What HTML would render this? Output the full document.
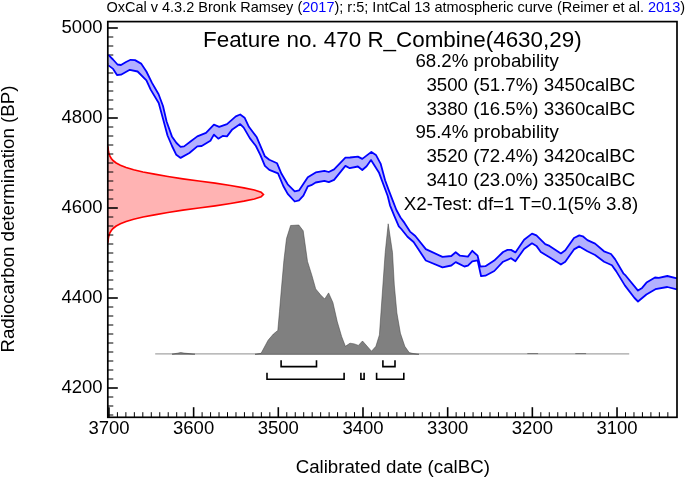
<!DOCTYPE html><html><head><meta charset="utf-8"><title>OxCal plot</title><style>html,body{margin:0;padding:0;background:#fff}svg{display:block}text{font-family:"Liberation Sans",sans-serif;fill:#000}</style></head><body>
<svg width="685" height="477" viewBox="0 0 685 477">
<rect width="685" height="477" fill="#fff"/>
<defs><clipPath id="c"><rect x="107.8" y="21.6" width="569.2" height="395.7"/></clipPath></defs>
<g clip-path="url(#c)">
<polygon points="105.8,147.2 108.0,147.2 108.2,149.5 108.5,151.8 109.1,154.0 109.9,156.2 111.3,158.5 113.3,160.8 116.2,163.0 120.4,165.2 126.1,167.5 133.6,169.8 143.0,172.0 154.5,174.2 167.9,176.5 182.9,178.8 198.9,181.0 215.1,183.2 230.5,185.5 243.9,187.8 254.4,190.0 261.1,192.2 263.4,194.5 261.1,196.8 254.4,199.0 243.9,201.2 230.5,203.5 215.1,205.8 198.9,208.0 182.9,210.2 167.9,212.5 154.5,214.8 143.0,217.0 133.6,219.2 126.1,221.5 120.4,223.8 116.2,226.0 113.3,228.2 111.3,230.5 109.9,232.8 109.1,235.0 108.5,237.2 108.2,239.5 108.0,241.8 105.8,241.8" fill="#ffb3b3" stroke="#ff0000" stroke-width="1.7" stroke-linejoin="miter"/>
</g>
<line x1="108.95" y1="417.2" x2="108.95" y2="407.2" stroke="#000" stroke-width="1.6"/><line x1="117.42" y1="417.2" x2="117.42" y2="412.2" stroke="#000" stroke-width="1"/><line x1="125.89" y1="417.2" x2="125.89" y2="412.2" stroke="#000" stroke-width="1"/><line x1="134.35" y1="417.2" x2="134.35" y2="412.2" stroke="#000" stroke-width="1"/><line x1="142.82" y1="417.2" x2="142.82" y2="412.2" stroke="#000" stroke-width="1"/><line x1="151.29" y1="417.2" x2="151.29" y2="412.2" stroke="#000" stroke-width="1"/><line x1="159.76" y1="417.2" x2="159.76" y2="412.2" stroke="#000" stroke-width="1"/><line x1="168.23" y1="417.2" x2="168.23" y2="412.2" stroke="#000" stroke-width="1"/><line x1="176.69" y1="417.2" x2="176.69" y2="412.2" stroke="#000" stroke-width="1"/><line x1="185.16" y1="417.2" x2="185.16" y2="412.2" stroke="#000" stroke-width="1"/><line x1="193.63" y1="417.2" x2="193.63" y2="407.2" stroke="#000" stroke-width="1.6"/><line x1="202.10" y1="417.2" x2="202.10" y2="412.2" stroke="#000" stroke-width="1"/><line x1="210.57" y1="417.2" x2="210.57" y2="412.2" stroke="#000" stroke-width="1"/><line x1="219.03" y1="417.2" x2="219.03" y2="412.2" stroke="#000" stroke-width="1"/><line x1="227.50" y1="417.2" x2="227.50" y2="412.2" stroke="#000" stroke-width="1"/><line x1="235.97" y1="417.2" x2="235.97" y2="412.2" stroke="#000" stroke-width="1"/><line x1="244.44" y1="417.2" x2="244.44" y2="412.2" stroke="#000" stroke-width="1"/><line x1="252.91" y1="417.2" x2="252.91" y2="412.2" stroke="#000" stroke-width="1"/><line x1="261.37" y1="417.2" x2="261.37" y2="412.2" stroke="#000" stroke-width="1"/><line x1="269.84" y1="417.2" x2="269.84" y2="412.2" stroke="#000" stroke-width="1"/><line x1="278.31" y1="417.2" x2="278.31" y2="407.2" stroke="#000" stroke-width="1.6"/><line x1="286.78" y1="417.2" x2="286.78" y2="412.2" stroke="#000" stroke-width="1"/><line x1="295.25" y1="417.2" x2="295.25" y2="412.2" stroke="#000" stroke-width="1"/><line x1="303.71" y1="417.2" x2="303.71" y2="412.2" stroke="#000" stroke-width="1"/><line x1="312.18" y1="417.2" x2="312.18" y2="412.2" stroke="#000" stroke-width="1"/><line x1="320.65" y1="417.2" x2="320.65" y2="412.2" stroke="#000" stroke-width="1"/><line x1="329.12" y1="417.2" x2="329.12" y2="412.2" stroke="#000" stroke-width="1"/><line x1="337.59" y1="417.2" x2="337.59" y2="412.2" stroke="#000" stroke-width="1"/><line x1="346.05" y1="417.2" x2="346.05" y2="412.2" stroke="#000" stroke-width="1"/><line x1="354.52" y1="417.2" x2="354.52" y2="412.2" stroke="#000" stroke-width="1"/><line x1="362.99" y1="417.2" x2="362.99" y2="407.2" stroke="#000" stroke-width="1.6"/><line x1="371.46" y1="417.2" x2="371.46" y2="412.2" stroke="#000" stroke-width="1"/><line x1="379.93" y1="417.2" x2="379.93" y2="412.2" stroke="#000" stroke-width="1"/><line x1="388.39" y1="417.2" x2="388.39" y2="412.2" stroke="#000" stroke-width="1"/><line x1="396.86" y1="417.2" x2="396.86" y2="412.2" stroke="#000" stroke-width="1"/><line x1="405.33" y1="417.2" x2="405.33" y2="412.2" stroke="#000" stroke-width="1"/><line x1="413.80" y1="417.2" x2="413.80" y2="412.2" stroke="#000" stroke-width="1"/><line x1="422.27" y1="417.2" x2="422.27" y2="412.2" stroke="#000" stroke-width="1"/><line x1="430.73" y1="417.2" x2="430.73" y2="412.2" stroke="#000" stroke-width="1"/><line x1="439.20" y1="417.2" x2="439.20" y2="412.2" stroke="#000" stroke-width="1"/><line x1="447.67" y1="417.2" x2="447.67" y2="407.2" stroke="#000" stroke-width="1.6"/><line x1="456.14" y1="417.2" x2="456.14" y2="412.2" stroke="#000" stroke-width="1"/><line x1="464.61" y1="417.2" x2="464.61" y2="412.2" stroke="#000" stroke-width="1"/><line x1="473.07" y1="417.2" x2="473.07" y2="412.2" stroke="#000" stroke-width="1"/><line x1="481.54" y1="417.2" x2="481.54" y2="412.2" stroke="#000" stroke-width="1"/><line x1="490.01" y1="417.2" x2="490.01" y2="412.2" stroke="#000" stroke-width="1"/><line x1="498.48" y1="417.2" x2="498.48" y2="412.2" stroke="#000" stroke-width="1"/><line x1="506.95" y1="417.2" x2="506.95" y2="412.2" stroke="#000" stroke-width="1"/><line x1="515.41" y1="417.2" x2="515.41" y2="412.2" stroke="#000" stroke-width="1"/><line x1="523.88" y1="417.2" x2="523.88" y2="412.2" stroke="#000" stroke-width="1"/><line x1="532.35" y1="417.2" x2="532.35" y2="407.2" stroke="#000" stroke-width="1.6"/><line x1="540.82" y1="417.2" x2="540.82" y2="412.2" stroke="#000" stroke-width="1"/><line x1="549.29" y1="417.2" x2="549.29" y2="412.2" stroke="#000" stroke-width="1"/><line x1="557.75" y1="417.2" x2="557.75" y2="412.2" stroke="#000" stroke-width="1"/><line x1="566.22" y1="417.2" x2="566.22" y2="412.2" stroke="#000" stroke-width="1"/><line x1="574.69" y1="417.2" x2="574.69" y2="412.2" stroke="#000" stroke-width="1"/><line x1="583.16" y1="417.2" x2="583.16" y2="412.2" stroke="#000" stroke-width="1"/><line x1="591.63" y1="417.2" x2="591.63" y2="412.2" stroke="#000" stroke-width="1"/><line x1="600.09" y1="417.2" x2="600.09" y2="412.2" stroke="#000" stroke-width="1"/><line x1="608.56" y1="417.2" x2="608.56" y2="412.2" stroke="#000" stroke-width="1"/><line x1="617.03" y1="417.2" x2="617.03" y2="407.2" stroke="#000" stroke-width="1.6"/><line x1="625.50" y1="417.2" x2="625.50" y2="412.2" stroke="#000" stroke-width="1"/><line x1="633.97" y1="417.2" x2="633.97" y2="412.2" stroke="#000" stroke-width="1"/><line x1="642.43" y1="417.2" x2="642.43" y2="412.2" stroke="#000" stroke-width="1"/><line x1="650.90" y1="417.2" x2="650.90" y2="412.2" stroke="#000" stroke-width="1"/><line x1="659.37" y1="417.2" x2="659.37" y2="412.2" stroke="#000" stroke-width="1"/><line x1="667.84" y1="417.2" x2="667.84" y2="412.2" stroke="#000" stroke-width="1"/><line x1="107.8" y1="28.00" x2="117.8" y2="28.00" stroke="#000" stroke-width="1.6"/><line x1="107.8" y1="37.00" x2="113.3" y2="37.00" stroke="#000" stroke-width="1"/><line x1="107.8" y1="46.00" x2="113.3" y2="46.00" stroke="#000" stroke-width="1"/><line x1="107.8" y1="55.00" x2="113.3" y2="55.00" stroke="#000" stroke-width="1"/><line x1="107.8" y1="64.00" x2="113.3" y2="64.00" stroke="#000" stroke-width="1"/><line x1="107.8" y1="73.00" x2="113.3" y2="73.00" stroke="#000" stroke-width="1"/><line x1="107.8" y1="82.00" x2="113.3" y2="82.00" stroke="#000" stroke-width="1"/><line x1="107.8" y1="91.00" x2="113.3" y2="91.00" stroke="#000" stroke-width="1"/><line x1="107.8" y1="100.00" x2="113.3" y2="100.00" stroke="#000" stroke-width="1"/><line x1="107.8" y1="109.00" x2="113.3" y2="109.00" stroke="#000" stroke-width="1"/><line x1="107.8" y1="118.00" x2="117.8" y2="118.00" stroke="#000" stroke-width="1.6"/><line x1="107.8" y1="127.00" x2="113.3" y2="127.00" stroke="#000" stroke-width="1"/><line x1="107.8" y1="136.00" x2="113.3" y2="136.00" stroke="#000" stroke-width="1"/><line x1="107.8" y1="145.00" x2="113.3" y2="145.00" stroke="#000" stroke-width="1"/><line x1="107.8" y1="154.00" x2="113.3" y2="154.00" stroke="#000" stroke-width="1"/><line x1="107.8" y1="163.00" x2="113.3" y2="163.00" stroke="#000" stroke-width="1"/><line x1="107.8" y1="172.00" x2="113.3" y2="172.00" stroke="#000" stroke-width="1"/><line x1="107.8" y1="181.00" x2="113.3" y2="181.00" stroke="#000" stroke-width="1"/><line x1="107.8" y1="190.00" x2="113.3" y2="190.00" stroke="#000" stroke-width="1"/><line x1="107.8" y1="199.00" x2="113.3" y2="199.00" stroke="#000" stroke-width="1"/><line x1="107.8" y1="208.00" x2="117.8" y2="208.00" stroke="#000" stroke-width="1.6"/><line x1="107.8" y1="217.00" x2="113.3" y2="217.00" stroke="#000" stroke-width="1"/><line x1="107.8" y1="226.00" x2="113.3" y2="226.00" stroke="#000" stroke-width="1"/><line x1="107.8" y1="235.00" x2="113.3" y2="235.00" stroke="#000" stroke-width="1"/><line x1="107.8" y1="244.00" x2="113.3" y2="244.00" stroke="#000" stroke-width="1"/><line x1="107.8" y1="253.00" x2="113.3" y2="253.00" stroke="#000" stroke-width="1"/><line x1="107.8" y1="262.00" x2="113.3" y2="262.00" stroke="#000" stroke-width="1"/><line x1="107.8" y1="271.00" x2="113.3" y2="271.00" stroke="#000" stroke-width="1"/><line x1="107.8" y1="280.00" x2="113.3" y2="280.00" stroke="#000" stroke-width="1"/><line x1="107.8" y1="289.00" x2="113.3" y2="289.00" stroke="#000" stroke-width="1"/><line x1="107.8" y1="298.00" x2="117.8" y2="298.00" stroke="#000" stroke-width="1.6"/><line x1="107.8" y1="307.00" x2="113.3" y2="307.00" stroke="#000" stroke-width="1"/><line x1="107.8" y1="316.00" x2="113.3" y2="316.00" stroke="#000" stroke-width="1"/><line x1="107.8" y1="325.00" x2="113.3" y2="325.00" stroke="#000" stroke-width="1"/><line x1="107.8" y1="334.00" x2="113.3" y2="334.00" stroke="#000" stroke-width="1"/><line x1="107.8" y1="343.00" x2="113.3" y2="343.00" stroke="#000" stroke-width="1"/><line x1="107.8" y1="352.00" x2="113.3" y2="352.00" stroke="#000" stroke-width="1"/><line x1="107.8" y1="361.00" x2="113.3" y2="361.00" stroke="#000" stroke-width="1"/><line x1="107.8" y1="370.00" x2="113.3" y2="370.00" stroke="#000" stroke-width="1"/><line x1="107.8" y1="379.00" x2="113.3" y2="379.00" stroke="#000" stroke-width="1"/><line x1="107.8" y1="388.00" x2="117.8" y2="388.00" stroke="#000" stroke-width="1.6"/><line x1="107.8" y1="397.00" x2="113.3" y2="397.00" stroke="#000" stroke-width="1"/><line x1="107.8" y1="406.00" x2="113.3" y2="406.00" stroke="#000" stroke-width="1"/><line x1="107.8" y1="415.00" x2="113.3" y2="415.00" stroke="#000" stroke-width="1"/>
<g clip-path="url(#c)">
<polygon points="108.4,54.9 113.0,59.5 117.5,64.5 121.0,65.0 126.0,62.0 130.6,59.8 135.0,60.1 141.1,63.6 146.4,71.5 152.0,82.9 158.6,94.3 163.0,106.0 166.6,121.5 171.9,136.4 176.5,143.0 180.6,146.9 184.1,146.4 190.5,141.5 197.3,136.4 206.0,132.9 213.9,124.7 219.2,126.8 227.0,124.1 235.8,116.3 240.2,114.5 244.6,117.7 248.9,126.8 256.8,137.3 264.9,156.3 269.3,159.8 277.1,163.3 281.5,173.8 287.7,184.3 294.7,191.3 299.0,190.4 307.8,177.3 315.7,172.4 324.4,170.8 328.8,172.0 334.1,169.4 345.4,157.7 350.0,157.5 357.9,156.6 362.3,158.9 371.4,151.9 375.9,154.9 380.6,163.6 385.1,180.2 388.9,190.6 396.4,210.0 400.5,217.5 404.5,222.9 410.0,231.6 415.3,236.0 425.8,249.1 442.5,256.9 451.3,256.0 455.7,252.2 460.0,255.7 467.9,256.6 472.3,250.8 477.6,255.7 480.2,266.5 485.4,266.2 494.2,260.6 503.1,252.0 507.5,249.9 511.0,249.9 515.4,252.4 524.1,239.8 532.0,233.6 536.4,235.4 545.2,244.1 549.5,245.9 560.9,253.4 565.3,250.3 574.0,238.0 579.3,235.4 582.8,236.3 587.4,240.1 595.1,243.6 604.0,251.3 611.0,254.0 615.2,259.4 623.6,273.7 625.8,275.7 638.0,290.6 642.1,287.9 646.5,282.6 655.0,277.5 658.8,277.8 667.3,276.0 677.0,278.3 677.0,289.4 667.3,287.0 655.4,289.2 646.4,294.5 638.0,301.5 634.5,298.0 625.0,285.6 616.1,271.1 611.9,265.3 604.1,261.8 595.1,255.0 587.4,251.2 579.3,246.4 574.0,249.4 565.3,261.7 560.9,264.6 549.5,257.3 540.8,252.0 536.4,245.9 532.0,243.3 524.1,248.9 515.4,261.3 511.0,258.2 503.1,261.7 494.3,271.0 485.4,275.7 481.1,276.2 477.6,260.4 472.3,261.3 467.9,265.7 464.4,266.5 455.7,262.1 451.3,265.5 442.5,267.3 425.8,260.5 413.6,242.0 407.5,236.8 401.3,229.0 398.8,226.3 394.3,215.9 390.0,205.3 387.7,196.0 378.9,172.4 371.0,160.1 366.6,166.3 362.3,170.0 357.9,166.5 349.8,168.2 345.4,165.9 334.1,179.9 328.8,182.2 324.4,180.8 315.7,182.5 311.3,185.2 307.8,186.4 303.4,195.7 299.0,200.4 294.7,201.5 287.7,193.9 283.3,186.0 278.0,173.4 269.3,169.9 264.9,165.9 260.3,154.8 255.9,146.0 249.8,138.1 243.7,127.6 240.2,124.1 232.3,129.4 227.0,136.4 222.7,135.9 218.3,138.7 213.9,134.6 210.4,140.8 201.7,146.0 197.3,146.4 189.4,153.0 180.6,157.9 176.3,154.8 172.0,146.0 167.5,135.5 163.0,118.8 158.7,103.0 150.8,89.9 146.4,80.3 137.6,71.5 129.8,69.8 121.0,74.7 117.0,75.0 113.1,68.9 108.4,65.4" fill="#b3b0fe" stroke="none"/>
<polyline points="108.4,54.9 113.0,59.5 117.5,64.5 121.0,65.0 126.0,62.0 130.6,59.8 135.0,60.1 141.1,63.6 146.4,71.5 152.0,82.9 158.6,94.3 163.0,106.0 166.6,121.5 171.9,136.4 176.5,143.0 180.6,146.9 184.1,146.4 190.5,141.5 197.3,136.4 206.0,132.9 213.9,124.7 219.2,126.8 227.0,124.1 235.8,116.3 240.2,114.5 244.6,117.7 248.9,126.8 256.8,137.3 264.9,156.3 269.3,159.8 277.1,163.3 281.5,173.8 287.7,184.3 294.7,191.3 299.0,190.4 307.8,177.3 315.7,172.4 324.4,170.8 328.8,172.0 334.1,169.4 345.4,157.7 350.0,157.5 357.9,156.6 362.3,158.9 371.4,151.9 375.9,154.9 380.6,163.6 385.1,180.2 388.9,190.6 396.4,210.0 400.5,217.5 404.5,222.9 410.0,231.6 415.3,236.0 425.8,249.1 442.5,256.9 451.3,256.0 455.7,252.2 460.0,255.7 467.9,256.6 472.3,250.8 477.6,255.7 480.2,266.5 485.4,266.2 494.2,260.6 503.1,252.0 507.5,249.9 511.0,249.9 515.4,252.4 524.1,239.8 532.0,233.6 536.4,235.4 545.2,244.1 549.5,245.9 560.9,253.4 565.3,250.3 574.0,238.0 579.3,235.4 582.8,236.3 587.4,240.1 595.1,243.6 604.0,251.3 611.0,254.0 615.2,259.4 623.6,273.7 625.8,275.7 638.0,290.6 642.1,287.9 646.5,282.6 655.0,277.5 658.8,277.8 667.3,276.0 677.0,278.3" fill="none" stroke="#0000ff" stroke-width="1.8" stroke-linejoin="round"/>
<polyline points="108.4,65.4 113.1,68.9 117.0,75.0 121.0,74.7 129.8,69.8 137.6,71.5 146.4,80.3 150.8,89.9 158.7,103.0 163.0,118.8 167.5,135.5 172.0,146.0 176.3,154.8 180.6,157.9 189.4,153.0 197.3,146.4 201.7,146.0 210.4,140.8 213.9,134.6 218.3,138.7 222.7,135.9 227.0,136.4 232.3,129.4 240.2,124.1 243.7,127.6 249.8,138.1 255.9,146.0 260.3,154.8 264.9,165.9 269.3,169.9 278.0,173.4 283.3,186.0 287.7,193.9 294.7,201.5 299.0,200.4 303.4,195.7 307.8,186.4 311.3,185.2 315.7,182.5 324.4,180.8 328.8,182.2 334.1,179.9 345.4,165.9 349.8,168.2 357.9,166.5 362.3,170.0 366.6,166.3 371.0,160.1 378.9,172.4 387.7,196.0 390.0,205.3 394.3,215.9 398.8,226.3 401.3,229.0 407.5,236.8 413.6,242.0 425.8,260.5 442.5,267.3 451.3,265.5 455.7,262.1 464.4,266.5 467.9,265.7 472.3,261.3 477.6,260.4 481.1,276.2 485.4,275.7 494.3,271.0 503.1,261.7 511.0,258.2 515.4,261.3 524.1,248.9 532.0,243.3 536.4,245.9 540.8,252.0 549.5,257.3 560.9,264.6 565.3,261.7 574.0,249.4 579.3,246.4 587.4,251.2 595.1,255.0 604.1,261.8 611.9,265.3 616.1,271.1 625.0,285.6 634.5,298.0 638.0,301.5 646.4,294.5 655.4,289.2 667.3,287.0 677.0,289.4" fill="none" stroke="#0000ff" stroke-width="1.8" stroke-linejoin="round"/>
</g>
<line x1="155.2" y1="353.9" x2="629.2" y2="353.9" stroke="#a4a4a4" stroke-width="1.3"/>
<polygon points="255.0,354.3 261.1,353.3 268.1,340.2 273.4,334.0 277.8,330.5 279.5,311.3 281.3,290.0 283.9,260.5 286.5,238.6 290.6,225.5 298.8,225.0 303.2,230.8 307.5,261.4 311.9,275.4 315.7,288.9 320.7,295.0 324.7,299.0 328.6,292.9 332.9,302.5 337.3,321.8 341.7,336.7 345.4,346.3 350.0,343.2 354.4,343.9 358.4,345.4 362.5,341.0 371.5,351.2 375.9,346.3 379.4,334.9 382.9,285.0 385.2,252.6 388.2,223.8 392.5,252.6 394.3,285.0 396.9,313.0 400.4,333.2 404.8,346.3 409.2,352.6 413.0,353.5 419.0,354.3" fill="#808080" stroke="#3a3a3a" stroke-width="0.5" stroke-linejoin="round"/>
<polygon points="172.0,354.2 177.5,353.2 180.6,352.5 184.0,353.1 189.0,353.6 195.0,354.2" fill="#808080" stroke="#3a3a3a" stroke-width="0.5" stroke-linejoin="round"/>
<line x1="527.7" y1="353.6" x2="537.7" y2="353.6" stroke="#555" stroke-width="0.9" stroke-linecap="round" opacity="0.8"/>
<line x1="575.7" y1="353.6" x2="585.7" y2="353.6" stroke="#555" stroke-width="0.9" stroke-linecap="round" opacity="0.8"/>
<polyline points="281.1,360.2 281.1,366.6 316.5,366.6 316.5,360.2" fill="none" stroke="#000" stroke-width="1.6"/>
<polyline points="382.9,360.2 382.9,366.6 395.0,366.6 395.0,360.2" fill="none" stroke="#000" stroke-width="1.6"/>
<polyline points="267.0,372.8 267.0,379.2 344.1,379.2 344.1,372.8" fill="none" stroke="#000" stroke-width="1.6"/>
<polyline points="360.9,372.8 360.9,379.2 364.1,379.2 364.1,372.8" fill="none" stroke="#000" stroke-width="1.6"/>
<polyline points="376.6,372.8 376.6,379.2 403.8,379.2 403.8,372.8" fill="none" stroke="#000" stroke-width="1.6"/>
<rect x="107.8" y="21.6" width="569.2" height="395.7" fill="none" stroke="#000" stroke-width="1.7"/>
<text x="109.0" y="433.6" font-size="18.5" text-anchor="middle">3700</text>
<text x="193.6" y="433.6" font-size="18.5" text-anchor="middle">3600</text>
<text x="278.3" y="433.6" font-size="18.5" text-anchor="middle">3500</text>
<text x="363.0" y="433.6" font-size="18.5" text-anchor="middle">3400</text>
<text x="447.7" y="433.6" font-size="18.5" text-anchor="middle">3300</text>
<text x="532.4" y="433.6" font-size="18.5" text-anchor="middle">3200</text>
<text x="617.0" y="433.6" font-size="18.5" text-anchor="middle">3100</text>
<text x="102.6" y="33.2" font-size="18.5" text-anchor="end">5000</text>
<text x="102.6" y="123.2" font-size="18.5" text-anchor="end">4800</text>
<text x="102.6" y="213.2" font-size="18.5" text-anchor="end">4600</text>
<text x="102.6" y="303.2" font-size="18.5" text-anchor="end">4400</text>
<text x="102.6" y="393.2" font-size="18.5" text-anchor="end">4200</text>
<text x="106.4" y="12" font-size="14.5">OxCal v 4.3.2 Bronk Ramsey (<tspan fill="#0000ff">2017</tspan>); r:5; IntCal 13 atmospheric curve (Reimer et al. <tspan fill="#0000ff">2013</tspan>)</text>
<text x="203" y="46.7" font-size="22.42">Feature no. 470 R_Combine(4630,29)</text>
<text x="415.4" y="67.4" font-size="18.7">68.2% probability</text>
<text x="426.4" y="91.1" font-size="18.7">3500 (51.7%) 3450calBC</text>
<text x="426.4" y="114.8" font-size="18.7">3380 (16.5%) 3360calBC</text>
<text x="415.4" y="138.4" font-size="18.7">95.4% probability</text>
<text x="426.4" y="162.1" font-size="18.7">3520 (72.4%) 3420calBC</text>
<text x="426.4" y="185.8" font-size="18.7">3410 (23.0%) 3350calBC</text>
<text x="403.8" y="209.5" font-size="18.7">X2-Test: df=1 T=0.1(5% 3.8)</text>
<text transform="translate(14.0,219.1) rotate(-90)" font-size="18.7" text-anchor="middle">Radiocarbon determination (BP)</text>
<text x="392.8" y="472.5" font-size="18.7" text-anchor="middle">Calibrated date (calBC)</text>
</svg></body></html>
